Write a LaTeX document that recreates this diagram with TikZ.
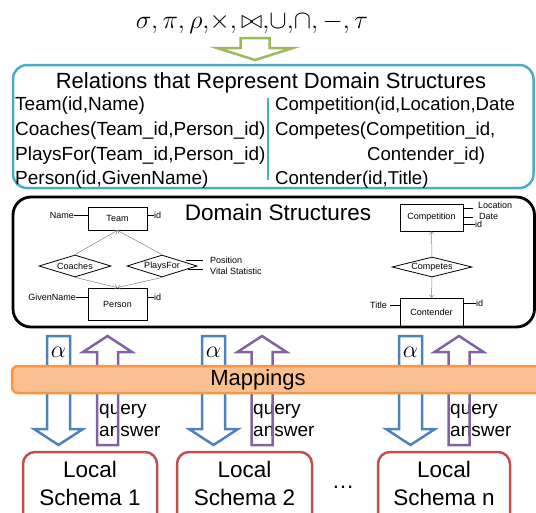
\RequirePackage{fix-cm}
\documentclass[tikz,border=0pt]{standalone}
\usepackage{fontspec}
\setmainfont{Liberation Sans}
\usetikzlibrary{shapes.geometric,arrows.meta}

\definecolor{relblue}{HTML}{4BACC6}
\definecolor{leafgreen}{HTML}{9BBB59}
\definecolor{alphablue}{HTML}{4F81BD}
\definecolor{answerpurple}{HTML}{8064A2}
\definecolor{mapfill}{HTML}{FAC090}
\definecolor{mapline}{HTML}{F79646}
\definecolor{schemared}{HTML}{C0504D}

\newcommand\setfs[1]{\fontsize{#1}{#1}\selectfont}

\begin{document}
\begin{tikzpicture}[x=1pt,y=-1pt,
  txt/.style={inner sep=0pt, font=\setfs{19}},
  rtxt/.style={inner sep=0pt, font=\setfs{18.6}},
  erbox/.style={draw, line width=0.8pt, inner sep=0pt, font=\setfs{9}},
  erdia/.style={draw, shape=diamond, aspect=4, inner sep=0pt, line width=0.8pt, font=\setfs{9}},
  erlbl/.style={inner sep=0pt, font=\setfs{9}},
  erlink/.style={draw=gray, line width=0.5pt, -{Straight Barb[length=2.5pt,width=4.5pt]}},
  attr/.style={line width=0.8pt},
  blockline/.style={line width=2.5pt, line join=miter},
  bigtxt/.style={inner sep=0pt, font=\setfs{22.5}}
]
\useasboundingbox (0,0) rectangle (536,512);

% algebra operators and the arrow into the relations box
\node[inner sep=0pt, anchor=base, font=\setfs{26}] (ops) at (252,28)
  {$\sigma{,}\,\pi{,}\,\rho{,}{\times}{,}\,{\bowtie}{,}{\cup}{,}{\cap}{,}\,{-}{,}\,\tau$};
\draw[leafgreen, blockline] (240.5,38) -- (269.5,38) -- (269.5,48) -- (293,48)
  -- (255,60) -- (217,48) -- (240.5,48) -- cycle;

% relations box
\draw[relblue, line width=2.5pt, rounded corners=14pt] (13,65) rectangle (533.5,188);
\node[inner sep=0pt, anchor=base, font=\setfs{22}] (reltitle) at (271,88) {Relations that Represent Domain Structures};
\node[txt, anchor=base west] (rteam) at (15,110) {Team(id,Name)};
\node[txt, anchor=base west] (rcoach) at (15,135) {Coaches(Team\_id,Person\_id)};
\node[txt, anchor=base west] (rplays) at (15,160) {PlaysFor(Team\_id,Person\_id)};
\node[txt, anchor=base west] (rperson) at (15,184) {Person(id,GivenName)};
\draw[relblue, line width=1.5pt] (268,98) -- (268,180);
\node[rtxt, anchor=base west] (rcomp) at (275,110) {Competition(id,Location,Date};
\node[rtxt, anchor=base west] (rcompetes) at (275,135) {Competes(Competition\_id,};
\node[rtxt, anchor=base west] (rcompetes2) at (367,160) {Contender\_id)};
\node[rtxt, anchor=base west] (rcont) at (275,184) {Contender(id,Title)};

% domain structures box
\draw[line width=2.8pt, rounded corners=18pt] (13,197) rectangle (534.5,327);
\node[bigtxt, anchor=base] (dstitle) at (278,220) {Domain Structures};

% left ER diagram
\node[erbox, minimum width=59pt, minimum height=23pt] (team) at (117.5,218.5) {Team};
\node[erbox, minimum width=59pt, minimum height=32pt] (person) at (117.5,304) {Person};
\node[erdia, minimum width=72pt, minimum height=22pt] (coaches) at (75,266) {Coaches};
\node[erdia, minimum width=70pt, minimum height=22pt] (plays) at (162,266) {PlaysFor};
\draw[erlink] (coaches.north) -- (team.south);
\draw[erlink] (plays.north) -- (team.south);
\draw[erlink] (coaches.south) -- (person.north);
\draw[erlink] (plays.south) -- (person.north);

\node[erlbl, anchor=east] (tname) at (74,215) {Name};
\draw[attr] (tname.east) -- (tname.east -| team.west);
\node[erlbl, anchor=west] (tid) at (154,215) {id};
\draw[attr] (tid.west -| team.east) -- (tid.west);
\node[erlbl, anchor=east] (pgiven) at (76,297) {GivenName};
\draw[attr] (pgiven.east) -- (pgiven.east -| person.west);
\node[erlbl, anchor=west] (pid) at (154,297) {id};
\draw[attr] (pid.west -| person.east) -- (pid.west);

\node[erlbl, anchor=west] (ppos) at (210,260) {Position};
\node[erlbl, anchor=west] (pvital) at (210,271.5) {Vital Statistic};
\coordinate (posfoot) at (186,260);
\coordinate (posend) at (203,260);
\coordinate (vitalfoot) at (188,269.5);
\coordinate (vitalend) at (203,269.5);
\draw[attr] (posfoot) -- (posend);
\draw[attr] (vitalfoot) -- (vitalend);

% right ER diagram
\node[erbox, minimum width=63pt, minimum height=27pt] (comp) at (431.5,217.5) {Competition};
\node[erbox, minimum width=63pt, minimum height=28pt] (cont) at (431.5,312) {Contender};
\node[erdia, minimum width=80pt, minimum height=20pt] (competes) at (432,267) {Competes};
\draw[erlink] (competes.north) -- (comp.south);
\draw[erlink] (competes.south) -- (cont.north);

\node[erlbl, anchor=west] (cloc) at (478,205) {Location};
\node[erlbl, anchor=west] (cdate) at (479,216) {Date};
\node[erlbl, anchor=west] (cid) at (475,224.5) {id};
\coordinate (locfoot) at (463,208.5);
\coordinate (locend) at (473,208.5);
\coordinate (datefoot) at (463,217);
\coordinate (dateend) at (473,217);
\draw[attr] (locfoot) -- (locend);
\draw[attr] (datefoot) -- (dateend);
\draw[attr] (cid.west -| comp.east) -- (cid.west);

\node[erlbl, anchor=east] (ctitle) at (387,305) {Title};
\coordinate (titlefoot) at (390,305);
\draw[attr] (titlefoot) -- (titlefoot -| cont.west);
\node[erlbl, anchor=west] (cnid) at (476,303) {id};
\draw[attr] (cnid.west -| cont.east) -- (cnid.west);

% query / answer arrows through the mapping layer
\foreach \c/\p/\q/\i in {58.5/107.5/99/1, 213.5/262/253/2, 410.5/459/450/3}{
  \draw[alphablue, blockline] ({\c-11.5},336) -- ({\c+11.5},336) -- ({\c+11.5},429)
    -- ({\c+24.5},429) -- (\c,445) -- ({\c-24.5},429) -- ({\c-11.5},429) -- cycle;
  \node[inner sep=0pt, font=\setfs{24}] (alpha\i) at (\c,352) {$\alpha$};
  \node[txt, anchor=base west] (query\i) at (\q,414) {query};
  \node[txt, anchor=base west] (answer\i) at (\q,436) {answer};
  \draw[answerpurple, blockline] (\p,336) -- ({\p+24.5},352) -- ({\p+10.5},352)
    -- ({\p+10.5},445) -- ({\p-10.5},445) -- ({\p-10.5},352) -- ({\p-24.5},352) -- cycle;
}

% mapping layer
\draw[mapline, fill=mapfill, line width=2.5pt, rounded corners=6pt] (12,366) rectangle (550,393);
\node[inner sep=0pt, font=\setfs{22}] (mappings) at (258,379.5) {Mappings};

% local schemas
\tikzset{schemabox/.style={schemared, line width=2.5pt, rounded corners=12pt}}
\draw[schemabox] (23,452) rectangle (157,530);
\draw[schemabox] (177,452) rectangle (312,530);
\draw[schemabox] (378,452) rectangle (510,530);
\node[bigtxt, anchor=base] (local1) at (90,477) {Local};
\node[bigtxt, anchor=base] (schema1) at (90,505) {Schema 1};
\node[bigtxt, anchor=base] (local2) at (244.5,477) {Local};
\node[bigtxt, anchor=base] (schema2) at (244.5,505) {Schema 2};
\node[bigtxt, anchor=base] (local3) at (444,477) {Local};
\node[bigtxt, anchor=base] (schema3) at (444,505) {Schema n};
\node[bigtxt, anchor=base] (dots) at (343,488) {\dots};
\end{tikzpicture}
\end{document}
